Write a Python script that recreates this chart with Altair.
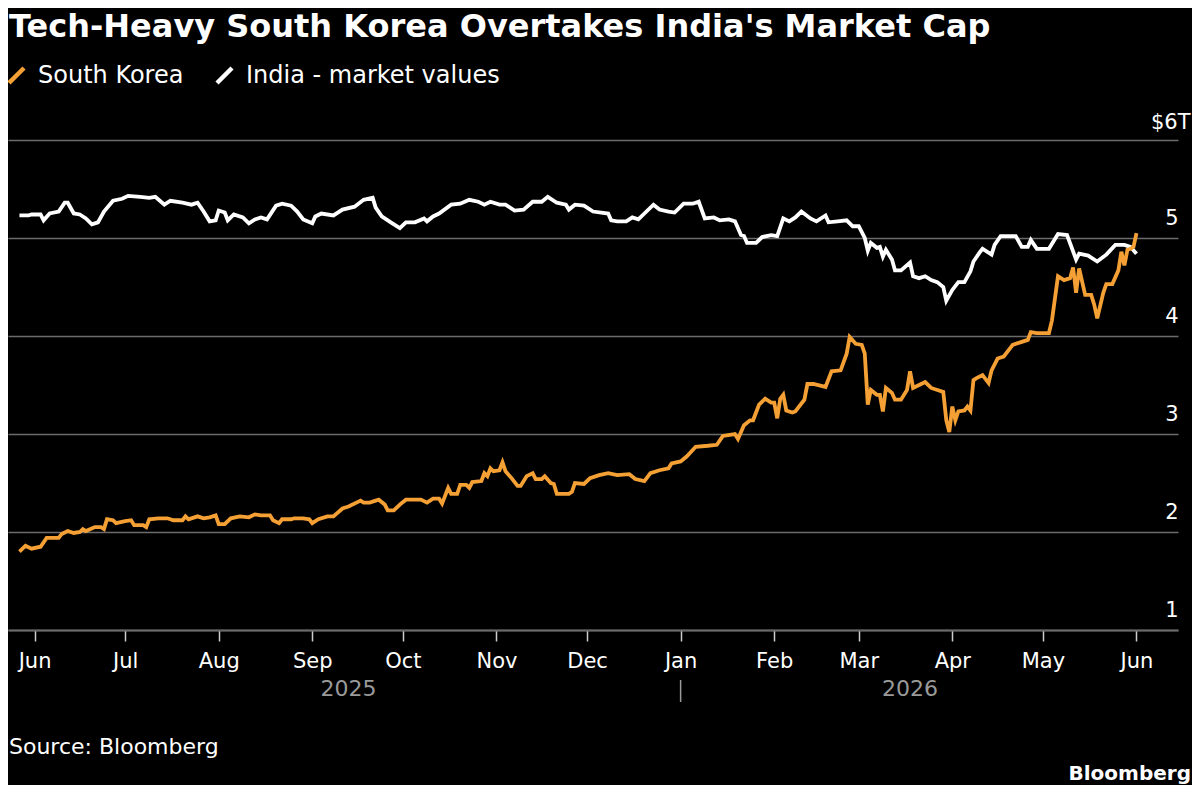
import altair as alt
import pandas as pd

TITLE = "Tech-Heavy South Korea Overtakes India's Market Cap"
SOURCE = "Source: Bloomberg"
BRAND = "Bloomberg"
SERIES = ["South Korea", "India - market values"]
COLORS = ["#f4a035", "#ffffff"]
YEAR_LABELS = ["2025", "2026"]
YEAR_LABEL_DATES = ["2025-09-13", "2026-03-18"]
YEAR_SEPARATOR_DATE = ["2026-01-01"]
Y_TICKS = [1, 2, 3, 4, 5, 6]
TOP_LABEL = "$6T"
MONTH_TICKS = [(2025, m) for m in range(6, 13)] + [(2026, m) for m in range(1, 7)]

india_dates = [
    "2025-05-27", "2025-05-30", "2025-05-31", "2025-06-03", "2025-06-04", "2025-06-06",
    "2025-06-09", "2025-06-11", "2025-06-12", "2025-06-14", "2025-06-16", "2025-06-18",
    "2025-06-20", "2025-06-22", "2025-06-24", "2025-06-27", "2025-06-30",
    "2025-07-02", "2025-07-06", "2025-07-09", "2025-07-11", "2025-07-14", "2025-07-16",
    "2025-07-20", "2025-07-23", "2025-07-25", "2025-07-27", "2025-07-29", "2025-07-31",
    "2025-08-01", "2025-08-03", "2025-08-04", "2025-08-06", "2025-08-09", "2025-08-11",
    "2025-08-13", "2025-08-15", "2025-08-17", "2025-08-20", "2025-08-22", "2025-08-25",
    "2025-08-27", "2025-08-29",
    "2025-09-01", "2025-09-02", "2025-09-04", "2025-09-08", "2025-09-11", "2025-09-15",
    "2025-09-18", "2025-09-21", "2025-09-22", "2025-09-24", "2025-09-27", "2025-09-30",
    "2025-10-02", "2025-10-05", "2025-10-08", "2025-10-09", "2025-10-11", "2025-10-13",
    "2025-10-17", "2025-10-20", "2025-10-23", "2025-10-26", "2025-10-28", "2025-10-30",
    "2025-11-02", "2025-11-04", "2025-11-07", "2025-11-10", "2025-11-13", "2025-11-16",
    "2025-11-18", "2025-11-21", "2025-11-24", "2025-11-25", "2025-11-27", "2025-11-30",
    "2025-12-03", "2025-12-08", "2025-12-09", "2025-12-11", "2025-12-14", "2025-12-16",
    "2025-12-18", "2025-12-20", "2025-12-23", "2025-12-25", "2025-12-28", "2025-12-30",
    "2026-01-02", "2026-01-05", "2026-01-07", "2026-01-09", "2026-01-12", "2026-01-14",
    "2026-01-17", "2026-01-19", "2026-01-21", "2026-01-22", "2026-01-23", "2026-01-26",
    "2026-01-28", "2026-01-31",
    "2026-02-02", "2026-02-04", "2026-02-06", "2026-02-08", "2026-02-10", "2026-02-13",
    "2026-02-15", "2026-02-18", "2026-02-19", "2026-02-22", "2026-02-25", "2026-02-27",
    "2026-03-01", "2026-03-03", "2026-03-04", "2026-03-05", "2026-03-07", "2026-03-08",
    "2026-03-09", "2026-03-10", "2026-03-12", "2026-03-13", "2026-03-15", "2026-03-18",
    "2026-03-19", "2026-03-21", "2026-03-23", "2026-03-25", "2026-03-27", "2026-03-29",
    "2026-03-30",
    "2026-04-01", "2026-04-03", "2026-04-05", "2026-04-07", "2026-04-08", "2026-04-10",
    "2026-04-11", "2026-04-14", "2026-04-15", "2026-04-17", "2026-04-20", "2026-04-22",
    "2026-04-24", "2026-04-26", "2026-04-27", "2026-04-29",
    "2026-05-03", "2026-05-06", "2026-05-09", "2026-05-12", "2026-05-13", "2026-05-16",
    "2026-05-19", "2026-05-22", "2026-05-25", "2026-05-28", "2026-05-30", "2026-06-01",
]
india_values = [
    5.23, 5.23, 5.24, 5.24, 5.18, 5.25,
    5.27, 5.36, 5.36, 5.25, 5.24, 5.20,
    5.14, 5.16, 5.27, 5.38, 5.40,
    5.43, 5.42, 5.41, 5.42, 5.34, 5.38,
    5.36, 5.34, 5.36, 5.27, 5.17, 5.18,
    5.28, 5.26, 5.18, 5.24, 5.21, 5.15,
    5.19, 5.21, 5.19, 5.33, 5.35, 5.33,
    5.27, 5.19,
    5.15, 5.22, 5.25, 5.23, 5.29, 5.32,
    5.39, 5.41, 5.31, 5.22, 5.16, 5.10,
    5.16, 5.16, 5.20, 5.17, 5.22, 5.25,
    5.34, 5.35, 5.39, 5.37, 5.34, 5.37,
    5.34, 5.34, 5.28, 5.29, 5.37, 5.37,
    5.42, 5.36, 5.34, 5.29, 5.34, 5.33,
    5.27, 5.25, 5.18, 5.17, 5.17, 5.21,
    5.19, 5.25, 5.34, 5.29, 5.27, 5.26,
    5.35, 5.35, 5.37, 5.20, 5.21, 5.18,
    5.19, 5.17, 5.03, 5.02, 4.95, 4.95,
    5.01, 5.03,
    5.02, 5.20, 5.17, 5.21, 5.27, 5.20,
    5.17, 5.23, 5.16, 5.17, 5.18, 5.12,
    5.12, 5.00, 4.87, 4.95, 4.90, 4.91,
    4.81, 4.88, 4.78, 4.67, 4.67, 4.75,
    4.61, 4.59, 4.61, 4.57, 4.55, 4.50,
    4.36,
    4.47, 4.55, 4.55, 4.66, 4.76, 4.85,
    4.89, 4.83, 4.93, 5.02, 5.02, 5.02,
    4.91, 4.91, 4.98, 4.89,
    4.89, 5.04, 5.03, 4.78, 4.84, 4.82,
    4.76, 4.83, 4.93, 4.93, 4.91, 4.84,
]

korea_dates = [
    "2025-05-27", "2025-05-29", "2025-05-31", "2025-06-03", "2025-06-05", "2025-06-06",
    "2025-06-09", "2025-06-10", "2025-06-12", "2025-06-14", "2025-06-16", "2025-06-17",
    "2025-06-18", "2025-06-21", "2025-06-23", "2025-06-24", "2025-06-25", "2025-06-27",
    "2025-06-28",
    "2025-07-01", "2025-07-03", "2025-07-04", "2025-07-07", "2025-07-08", "2025-07-09",
    "2025-07-12", "2025-07-15", "2025-07-17", "2025-07-20", "2025-07-21", "2025-07-22",
    "2025-07-25", "2025-07-27", "2025-07-29", "2025-07-31",
    "2025-08-01", "2025-08-03", "2025-08-05", "2025-08-08", "2025-08-11", "2025-08-13",
    "2025-08-15", "2025-08-18", "2025-08-19", "2025-08-21", "2025-08-22", "2025-08-25",
    "2025-08-26", "2025-08-29", "2025-08-31",
    "2025-09-01", "2025-09-03", "2025-09-06", "2025-09-08", "2025-09-11", "2025-09-13",
    "2025-09-17", "2025-09-18", "2025-09-20", "2025-09-23", "2025-09-25", "2025-09-26",
    "2025-09-28", "2025-09-30",
    "2025-10-02", "2025-10-07", "2025-10-09", "2025-10-11", "2025-10-13", "2025-10-14",
    "2025-10-16", "2025-10-17", "2025-10-19", "2025-10-20", "2025-10-22", "2025-10-23",
    "2025-10-24", "2025-10-27", "2025-10-28", "2025-10-29", "2025-10-30", "2025-10-31",
    "2025-11-02", "2025-11-03", "2025-11-04", "2025-11-06", "2025-11-08", "2025-11-09",
    "2025-11-11", "2025-11-13", "2025-11-14", "2025-11-16", "2025-11-17", "2025-11-19",
    "2025-11-20", "2025-11-21", "2025-11-25", "2025-11-26", "2025-11-27", "2025-11-30",
    "2025-12-02", "2025-12-05", "2025-12-08", "2025-12-11", "2025-12-15", "2025-12-17",
    "2025-12-20", "2025-12-22", "2025-12-25", "2025-12-28", "2025-12-29",
    "2026-01-01", "2026-01-03", "2026-01-06", "2026-01-10", "2026-01-13", "2026-01-15",
    "2026-01-19", "2026-01-20", "2026-01-22", "2026-01-24", "2026-01-25", "2026-01-27",
    "2026-01-29", "2026-01-31",
    "2026-02-01", "2026-02-02", "2026-02-03", "2026-02-04", "2026-02-05", "2026-02-07",
    "2026-02-08", "2026-02-11", "2026-02-12", "2026-02-14", "2026-02-18", "2026-02-20",
    "2026-02-23", "2026-02-25", "2026-02-26", "2026-02-28",
    "2026-03-02", "2026-03-03", "2026-03-04", "2026-03-05", "2026-03-07", "2026-03-08",
    "2026-03-09", "2026-03-10", "2026-03-12", "2026-03-13", "2026-03-15", "2026-03-17",
    "2026-03-18", "2026-03-19", "2026-03-21", "2026-03-23", "2026-03-25", "2026-03-29",
    "2026-03-30", "2026-03-31",
    "2026-04-01", "2026-04-02", "2026-04-03", "2026-04-05", "2026-04-06", "2026-04-07",
    "2026-04-08", "2026-04-09", "2026-04-11", "2026-04-13", "2026-04-14", "2026-04-16",
    "2026-04-18", "2026-04-21", "2026-04-24", "2026-04-26", "2026-04-27", "2026-04-29",
    "2026-05-03", "2026-05-04", "2026-05-06", "2026-05-08", "2026-05-10", "2026-05-11",
    "2026-05-12", "2026-05-13", "2026-05-15", "2026-05-17", "2026-05-18", "2026-05-19",
    "2026-05-21", "2026-05-22", "2026-05-24", "2026-05-26", "2026-05-27", "2026-05-28",
    "2026-05-29", "2026-05-30", "2026-05-31", "2026-06-01",
]
korea_values = [
    1.80, 1.86, 1.83, 1.85, 1.94, 1.94,
    1.94, 1.98, 2.01, 1.99, 2.00, 2.03,
    2.01, 2.05, 2.05, 2.03, 2.13, 2.12,
    2.09,
    2.11, 2.12, 2.07, 2.07, 2.05, 2.13,
    2.14, 2.14, 2.12, 2.12, 2.16, 2.13,
    2.16, 2.14, 2.15, 2.17,
    2.08, 2.08, 2.14, 2.16, 2.15, 2.18,
    2.17, 2.17, 2.12, 2.09, 2.13, 2.13,
    2.14, 2.14, 2.13,
    2.09, 2.13, 2.16, 2.16, 2.24, 2.26,
    2.32, 2.30, 2.30, 2.33, 2.28, 2.22,
    2.22, 2.28,
    2.33, 2.33, 2.30, 2.34, 2.34, 2.29,
    2.45, 2.39, 2.39, 2.48, 2.48, 2.45,
    2.51, 2.52, 2.60, 2.57, 2.65, 2.62,
    2.63, 2.71, 2.62, 2.55, 2.47, 2.47,
    2.57, 2.60, 2.54, 2.54, 2.57, 2.50,
    2.49, 2.39, 2.39, 2.41, 2.50, 2.49,
    2.55, 2.58, 2.60, 2.58, 2.59, 2.54,
    2.52, 2.60, 2.63, 2.65, 2.70,
    2.72, 2.77, 2.87, 2.88, 2.89, 2.98,
    3.00, 2.95, 3.09, 3.14, 3.14, 3.30,
    3.36, 3.32,
    3.32, 3.16, 3.36, 3.40, 3.24, 3.22,
    3.23, 3.35, 3.51, 3.51, 3.48, 3.64,
    3.65, 3.82, 3.99, 3.92,
    3.91, 3.82, 3.30, 3.45, 3.40, 3.40,
    3.23, 3.47, 3.42, 3.35, 3.35, 3.45,
    3.64, 3.47, 3.50, 3.53, 3.47, 3.43,
    3.14, 3.02,
    3.28, 3.14, 3.23, 3.24, 3.28, 3.24,
    3.55, 3.57, 3.60, 3.52, 3.65, 3.77,
    3.79, 3.91, 3.94, 3.96, 4.04, 4.03,
    4.03, 4.16, 4.61, 4.57, 4.59, 4.70,
    4.44, 4.69, 4.42, 4.42, 4.32, 4.18,
    4.44, 4.53, 4.53, 4.67, 4.86, 4.72,
    4.88, 4.89, 4.91, 5.05,
]

W, H = 1170, 490
FONT = "DejaVu Sans"
GRID = "#6b6b6b"

india_df = pd.DataFrame({"date": india_dates, "value": india_values, "series": SERIES[1]})
korea_df = pd.DataFrame({"date": korea_dates, "value": korea_values, "series": SERIES[0]})

month_values = [alt.DateTime(year=y, month=m, date=1, utc=True) for y, m in MONTH_TICKS]

x_scale = alt.Scale(
    type="utc",
    domain=[
        alt.DateTime(year=2025, month=5, date=23, hours=5, utc=True),
        alt.DateTime(year=2026, month=6, date=14, hours=18, utc=True),
    ],
)
y_scale = alt.Scale(domain=[1, 6], nice=False, zero=False)
color_scale = alt.Scale(domain=SERIES, range=COLORS)

x_axis = alt.Axis(
    values=month_values,
    labelExpr="utcFormat(datum.value, '%b')",
    title=None,
    grid=False,
    domainColor=GRID,
    domainWidth=2,
    tickColor="#cccccc",
    tickWidth=1.5,
    tickSize=11,
    labelColor="#ffffff",
    labelFontSize=21,
    labelFont=FONT,
    labelPadding=9,
    labelOverlap=False,
    labelFlush=False,
)
y_axis = alt.Axis(
    orient="right",
    values=Y_TICKS,
    title=None,
    domain=False,
    ticks=False,
    grid=True,
    gridColor=GRID,
    gridWidth=1.5,
    labelExpr="datum.value == 6 ? '' : format(datum.value, 'd')",
    labelAlign="right",
    labelBaseline="alphabetic",
    labelOffset=-14,
    labelPadding=0,
    labelColor="#ffffff",
    labelFontSize=21,
    labelFont=FONT,
)
legend = alt.Legend(
    title=None,
    orient="none",
    legendX=-4,
    legendY=-77,
    direction="horizontal",
    symbolType="M-0.75,0.75L0.75,-0.75",
    symbolSize=400,
    symbolStrokeWidth=4.5,
    labelFontSize=24,
    labelFont=FONT,
    labelColor="#ffffff",
    labelOffset=9,
    labelLimit=500,
    columnPadding=24,
    padding=0,
)

def line_layer(df):
    return alt.Chart(df).mark_line(strokeWidth=3.8).encode(
        x=alt.X("date:T", scale=x_scale, axis=x_axis),
        y=alt.Y("value:Q", scale=y_scale, axis=y_axis),
        color=alt.Color("series:N", scale=color_scale, legend=legend),
    )

india_line = line_layer(india_df)
korea_line = line_layer(korea_df)

top_label = alt.Chart(pd.DataFrame({"t": [TOP_LABEL], "value": [6]})).mark_text(
    align="left", baseline="alphabetic", dy=-11, font=FONT, fontSize=21, color="#ffffff"
).encode(x=alt.value(W - 27), y=alt.Y("value:Q"), text="t:N")

year_labels = alt.Chart(pd.DataFrame({"date": YEAR_LABEL_DATES, "t": YEAR_LABELS})).mark_text(
    align="center", baseline="alphabetic", font=FONT, fontSize=22, color="#9a9a9a"
).encode(x=alt.X("date:T"), y=alt.value(H + 66), text="t:N")

separator = alt.Chart(pd.DataFrame({"date": YEAR_SEPARATOR_DATE})).mark_rule(
    color="#9a9a9a", strokeWidth=1.5
).encode(x=alt.X("date:T"), y=alt.value(H + 50), y2=alt.value(H + 72))

title = alt.Chart(pd.DataFrame({"t": [TITLE]})).mark_text(
    align="left", baseline="alphabetic", font=FONT, fontSize=32, fontWeight="bold", color="#ffffff"
).encode(x=alt.value(1), y=alt.value(-103), text="t:N")

source = alt.Chart(pd.DataFrame({"t": [SOURCE]})).mark_text(
    align="left", baseline="alphabetic", font=FONT, fontSize=22, color="#ffffff"
).encode(x=alt.value(1), y=alt.value(H + 124), text="t:N")

brand = alt.Chart(pd.DataFrame({"t": [BRAND]})).mark_text(
    align="right", baseline="alphabetic", font=FONT, fontSize=20, fontWeight="bold", color="#ffffff"
).encode(x=alt.value(W + 13), y=alt.value(H + 150), text="t:N")

chart = alt.layer(
    india_line, korea_line, top_label, year_labels, separator, title, source, brand
).properties(
    width=W,
    height=H,
    padding={"left": 0, "top": 132, "right": 14, "bottom": 155},
    autosize=alt.AutoSizeParams(type="none"),
    background="#000000",
).configure_view(stroke=None)

chart.save("out.html", embed_options={"renderer": "svg", "actions": False})
